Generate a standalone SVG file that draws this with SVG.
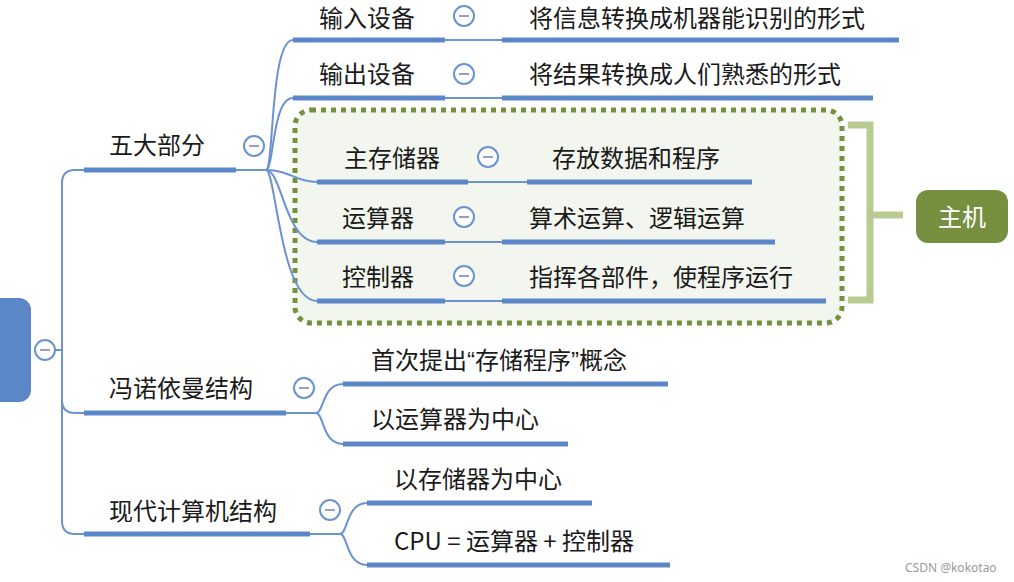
<svg xmlns="http://www.w3.org/2000/svg" width="1014" height="582" viewBox="0 0 1014 582">
<style>
.t{font-family:"Noto Sans CJK SC","Noto Sans",sans-serif;font-size:24px;fill:#1a1a1a}
.q{font-family:"Liberation Sans",sans-serif}
.bar{stroke:#5B87C8;stroke-width:5;fill:none}
.thin{stroke:#6B93D0;stroke-width:2;fill:none}
</style>
<defs>
<g id="minus"><circle cx="0" cy="0" r="10" fill="#fff" stroke="#6B93D0" stroke-width="2"/><line x1="-5" y1="0" x2="5" y2="0" stroke="#9A9DC8" stroke-width="2"/></g>
</defs>
<rect width="1014" height="582" fill="#fff"/>

<g id="hostbox">
<rect x="295" y="110" width="547" height="213" rx="16" fill="#F3F6EE" stroke="#76903F" stroke-width="5" stroke-dasharray="5 5"/>
<path d="M848,125 H870 V300 H848 M870,215 H903" fill="none" stroke="#B8CC92" stroke-width="7"/>
</g>

<g id="connectors">
<path class="thin" d="M84,170 H75 Q62,170 62,183 V521 Q62,534 75,534 H84"/>
<path class="thin" d="M62,400 Q62,413 75,413 H84"/>
<path class="thin" d="M36,350 H62"/>
<path class="thin" d="M236,170 H267"/>
<path class="thin" d="M266,170 C274,170 270,40 293,40"/>
<path class="thin" d="M266,170 C274,170 272,98 293,98"/>
<path class="thin" d="M266,170 C290,170 295,182 317,182"/>
<path class="thin" d="M266,170 C282,170 285,242 317,242"/>
<path class="thin" d="M266,170 C276,170 280,301 317,301"/>
<path class="thin" d="M445,40 H502 M445,98 H502 M468,182 H527 M445,242 H502 M445,301 H502"/>
<path class="thin" d="M286,413 H316 C324,413 322,384 343,384 M316,413 C324,413 322,444 343,444"/>
<path class="thin" d="M310,534 H340 C348,534 346,503 367,503 M340,534 C348,534 346,565 367,565"/>
</g>

<g id="root">
<rect x="-20" y="298" width="51" height="104" rx="12" fill="#5B87C8"/>
<use href="#minus" x="45" y="350"/>
</g>

<g id="n-wudabufen">
<path class="bar" d="M84,170 H236"/>
<text class="t" x="109" y="154">五大部分</text>
<use href="#minus" x="254" y="146"/>
</g>

<g id="n-input">
<path class="bar" d="M293,40 H445"/>
<text class="t" x="319" y="27">输入设备</text>
<use href="#minus" x="464" y="16"/>
</g>
<g id="n-input-d">
<path class="bar" d="M502,40 H899"/>
<text class="t" x="529" y="27">将信息转换成机器能识别的形式</text>
</g>

<g id="n-output">
<path class="bar" d="M293,98 H445"/>
<text class="t" x="319" y="83">输出设备</text>
<use href="#minus" x="464" y="74"/>
</g>
<g id="n-output-d">
<path class="bar" d="M502,98 H873"/>
<text class="t" x="529" y="83">将结果转换成人们熟悉的形式</text>
</g>

<g id="n-mem">
<path class="bar" d="M317,182 H468"/>
<text class="t" x="344" y="167">主存储器</text>
<use href="#minus" x="488" y="157"/>
</g>
<g id="n-mem-d">
<path class="bar" d="M527,182 H752"/>
<text class="t" x="552" y="167">存放数据和程序</text>
</g>

<g id="n-alu">
<path class="bar" d="M317,242 H445"/>
<text class="t" x="342" y="227">运算器</text>
<use href="#minus" x="464" y="217"/>
</g>
<g id="n-alu-d">
<path class="bar" d="M502,242 H775"/>
<text class="t" x="529" y="227">算术运算、逻辑运算</text>
</g>

<g id="n-ctrl">
<path class="bar" d="M317,301 H445"/>
<text class="t" x="342" y="286">控制器</text>
<use href="#minus" x="464" y="276"/>
</g>
<g id="n-ctrl-d">
<path class="bar" d="M502,301 H826"/>
<text class="t" x="529" y="286">指挥各部件，使程序运行</text>
</g>

<g id="n-host">
<rect x="916" y="190" width="92" height="53" rx="12" fill="#76903F"/>
<text class="t" x="962" y="226" text-anchor="middle" style="fill:#fff">主机</text>
</g>

<g id="n-vn">
<path class="bar" d="M84,413 H286"/>
<text class="t" x="109" y="397">冯诺依曼结构</text>
<use href="#minus" x="304" y="388"/>
</g>
<g id="n-vn-1">
<path class="bar" d="M343,384 H668"/>
<text class="t" x="371" y="369">首次提出<tspan class="q">“</tspan>存储程序<tspan class="q">”</tspan>概念</text>
</g>
<g id="n-vn-2">
<path class="bar" d="M343,444 H568"/>
<text class="t" x="371" y="428">以运算器为中心</text>
</g>

<g id="n-modern">
<path class="bar" d="M84,534 H310"/>
<text class="t" x="109" y="520">现代计算机结构</text>
<use href="#minus" x="330" y="510"/>
</g>
<g id="n-modern-1">
<path class="bar" d="M367,503 H592"/>
<text class="t" x="394" y="488">以存储器为中心</text>
</g>
<g id="n-modern-2">
<path class="bar" d="M367,565 H670"/>
<text class="t" x="394" y="550">CPU = 运算器 + 控制器</text>
</g>

<text x="905" y="572" style="font-family:'Noto Sans',sans-serif;font-size:12px;fill:#999">CSDN @kokotao</text>
</svg>
